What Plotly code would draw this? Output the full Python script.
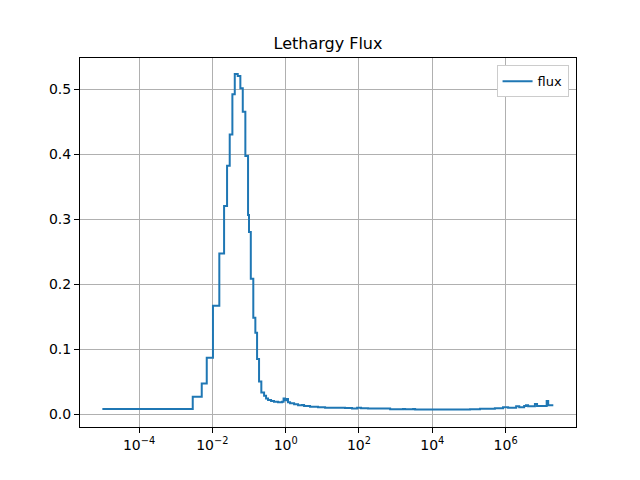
import plotly.graph_objects as go

# energy group edges (eV) and lethargy flux per group
energy_edges = [
    1e-5, 2.92e-3, 5.14e-3, 7.04e-3, 1.04e-2, 1.55e-2, 2.09e-2, 2.52e-2, 2.98e-2,
    3.52e-2, 4.09e-2, 4.93e-2, 5.81e-2, 6.76e-2, 7.95e-2, 9.42e-2, 0.100, 0.112,
    0.131, 0.149, 0.166, 0.188, 0.217, 0.258, 0.292, 0.331, 0.40, 0.48, 0.62,
    0.80, 0.877, 0.96, 1.06, 1.16, 1.32, 1.7, 2.18, 2.8, 3.18, 4.63, 7.66, 11.9,
    41.7, 64.6, 89.0, 114.0, 177.0, 708.0, 1590.0, 1810.0, 3000.0, 3400.0,
    1.07e5, 2.0e5, 5.1e5, 8.5e5, 1.17e6, 1.94e6, 2.35e6, 3.2e6, 3.6e6, 4.1e6,
    6.3e6, 7.2e6, 1.32e7, 1.45e7, 2.0e7,
]
flux = [
    0.0077, 0.0266, 0.047, 0.0867, 0.1667, 0.247, 0.320, 0.382, 0.430,
    0.492, 0.523, 0.520, 0.501, 0.465, 0.397, 0.306, 0.280, 0.208,
    0.148, 0.125, 0.0846, 0.050, 0.033, 0.028, 0.024, 0.0215, 0.020, 0.019, 0.018,
    0.019, 0.024, 0.021, 0.023, 0.018, 0.0165, 0.015, 0.0135, 0.014, 0.0125, 0.0113, 0.0105, 0.0097,
    0.0092, 0.0085, 0.0095, 0.0088, 0.0085, 0.0072, 0.0078, 0.0072, 0.0076, 0.0068,
    0.0075, 0.0082, 0.0090, 0.0105, 0.0098, 0.0118, 0.0105, 0.0125, 0.0135, 0.0118,
    0.0155, 0.0125, 0.020, 0.0135,
]

x_tick_vals = [1e-4, 1e-2, 1e0, 1e2, 1e4, 1e6]
x_tick_text = ["10<sup>\u22124</sup>", "10<sup>\u22122</sup>", "10<sup>0</sup>",
               "10<sup>2</sup>", "10<sup>4</sup>", "10<sup>6</sup>"]
y_tick_vals = [0.0, 0.1, 0.2, 0.3, 0.4, 0.5]

fig = go.Figure()
fig.add_trace(go.Scatter(
    x=energy_edges,
    y=flux + [flux[-1]],
    mode="lines",
    line=dict(shape="hv", color="#1f77b4", width=2),
    name="flux",
))

axis_common = dict(
    showline=True, linecolor="black", linewidth=1, mirror=True,
    ticks="outside", ticklen=5, tickcolor="black",
    showgrid=True, gridcolor="#b0b0b0", gridwidth=1, zeroline=False,
    tickfont=dict(size=14, color="black"),
)

# the page puts the figure 8px in from the top-left corner, margins allow for that
fig.update_layout(
    width=640,
    height=480,
    plot_bgcolor="white",
    paper_bgcolor="white",
    font=dict(family="DejaVu Sans", color="black"),
    title=dict(text="Lethargy Flux", x=0.5, xanchor="center", y=0.927, yanchor="middle",
               font=dict(size=16)),
    margin=dict(l=72, r=72, t=50, b=61),
    showlegend=True,
    legend=dict(x=0.985, y=0.98, xanchor="right", yanchor="top",
                bordercolor="#cccccc", borderwidth=1, bgcolor="white",
                font=dict(size=13), itemwidth=30),
    xaxis=dict(type="log", range=[-5.61, 7.92], tickvals=x_tick_vals,
               ticktext=x_tick_text, **axis_common),
    yaxis=dict(range=[-0.02, 0.5477], tickvals=y_tick_vals,
               ticktext=[f"{v:.1f}" for v in y_tick_vals], **axis_common),
)

fig.write_html("out.html")
